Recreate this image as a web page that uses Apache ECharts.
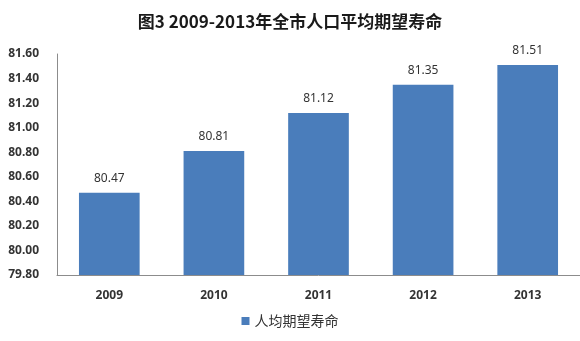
<!DOCTYPE html>
<html>
<head>
<meta charset="utf-8">
<script src="https://cdn.jsdelivr.net/npm/echarts@6/dist/echarts.min.js"></script>
<style>
  html, body { margin: 0; padding: 0; background: #fff; }
  #chart { width: 580px; height: 341px; }
</style>
</head>
<body>
<div id="chart"></div>
<script>
// Life expectancy by year
const years = ['2009', '2010', '2011', '2012', '2013'];
const lifeExpectancy = [80.47, 80.81, 81.12, 81.35, 81.51];
const seriesName = '人均期望寿命';
const titleText = '图3 2009-2013年全市人口平均期望寿命';

const fontFamily = '"Noto Sans", "Noto Sans CJK SC", sans-serif';
const chart = echarts.init(document.getElementById('chart'));

chart.setOption({
  animation: false,
  title: {
    text: titleText,
    left: 'center',
    top: 8,
    textStyle: { fontFamily: '"Noto Sans CJK SC", sans-serif', fontSize: 17, fontWeight: 'bold', color: '#1a1a1a' }
  },
  legend: {
    data: [seriesName],
    bottom: 8,
    left: 'center',
    icon: 'rect',
    itemWidth: 8,
    itemHeight: 8,
    itemGap: 4,
    textStyle: { fontFamily: '"Noto Sans CJK SC", sans-serif', fontSize: 14, color: '#333' }
  },
  grid: { left: 57, right: -14, top: 54, bottom: 66 },
  xAxis: {
    type: 'category',
    data: years,
    axisLine: { lineStyle: { color: '#8c8c8c' } },
    axisTick: { show: false },
    axisLabel: { margin: 15, fontFamily, fontSize: 12, fontWeight: 'bold', color: '#333' }
  },
  yAxis: {
    type: 'value',
    min: 79.8,
    max: 81.6,
    interval: 0.2,
    axisLine: { show: true, lineStyle: { color: '#8c8c8c' } },
    axisTick: { show: false },
    splitLine: { show: false },
    axisLabel: {
      margin: 18,
      fontFamily, fontSize: 12, fontWeight: 'bold', color: '#333',
      formatter: v => v.toFixed(2)
    }
  },
  series: [{
    name: seriesName,
    type: 'bar',
    data: lifeExpectancy,
    barWidth: '58%',
    itemStyle: { color: '#4a7dbb' },
    label: {
      show: true,
      position: 'top',
      distance: 8,
      fontFamily, fontSize: 12, color: '#333',
      formatter: p => p.value.toFixed(2)
    }
  }]
});
</script>
</body>
</html>
